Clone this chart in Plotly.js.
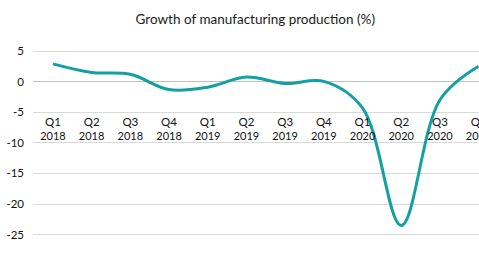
<!DOCTYPE html>
<html>
<head>
<meta charset="utf-8">
<script src="https://cdn.plot.ly/plotly-3.0.1.min.js"></script>
<style>html,body{margin:0;padding:0;background:#fff;}#chart{width:479px;height:262px;}</style>
</head>
<body>
<div id="chart"></div>
<script>
const quarterLabels = ["Q1","Q2","Q3","Q4","Q1","Q2","Q3","Q4","Q1","Q2","Q3","Q4"];
const yearLabels = ["2018","2018","2018","2018","2019","2019","2019","2019","2020","2020","2020","2020"];
const growth = [2.9, 1.5, 1.2, -1.3, -0.9, 0.75, -0.3, 0.05, -4.3, -23.5, -3.0, 2.5];
const yTicks = [5, 0, -5, -10, -15, -20, -25];
const yTickText = ["5", "0", "-5", "-10", "-15", "-20", "-25"];

const FONT = "Lato, 'Open Sans', sans-serif";
const idx = quarterLabels.map((q, i) => i);

const trace = {
  x: idx, y: growth,
  type: 'scatter', mode: 'lines',
  line: {color: '#13a0a3', width: 3, shape: 'spline', smoothing: 1},
  hoverinfo: 'skip'
};
const yearTrace = {
  x: idx, y: growth, xaxis: 'x2', yaxis: 'y',
  type: 'scatter', mode: 'lines', line: {width: 0}, opacity: 0, hoverinfo: 'skip'
};

const xRange = [-0.515, 11.01];
const layout = {
  width: 479, height: 262,
  margin: {l: 33, r: 0, t: 48, b: 2.5, pad: 0},
  paper_bgcolor: '#fff', plot_bgcolor: '#fff',
  showlegend: false,
  title: {text: 'Growth of manufacturing production (%)', x: 0.533, xanchor: 'center', y: 0.925, yanchor: 'middle',
          font: {family: FONT, size: 13.5, color: '#1a1a1a'}},
  xaxis: {
    type: 'linear', range: xRange,
    tickvals: idx, ticktext: quarterLabels,
    showgrid: false, zeroline: false, showline: false,
    ticks: '', anchor: 'free', position: 0.688, ticklabeloverflow: 'allow',
    tickfont: {family: FONT, size: 11.5, color: '#111'},
    fixedrange: true
  },
  xaxis2: {
    type: 'linear', range: xRange, overlaying: 'x',
    tickvals: idx, ticktext: yearLabels,
    showgrid: false, zeroline: false, showline: false,
    ticks: '', anchor: 'free', position: 0.619, side: 'bottom', ticklabeloverflow: 'allow',
    tickfont: {family: FONT, size: 11, color: '#111'},
    fixedrange: true
  },
  yaxis: {
    range: [-28.99, 5.5],
    tickvals: yTicks, ticktext: yTickText,
    showgrid: true, gridcolor: '#d9d9d9', gridwidth: 1,
    zeroline: true, zerolinecolor: '#bfbfbf', zerolinewidth: 1,
    showline: false, ticks: '', ticklabelstandoff: 8,
    tickfont: {family: FONT, size: 11.5, color: '#111'},
    fixedrange: true
  }
};

Plotly.newPlot('chart', [yearTrace, trace], layout, {staticPlot: true, displayModeBar: false});
</script>
</body>
</html>
